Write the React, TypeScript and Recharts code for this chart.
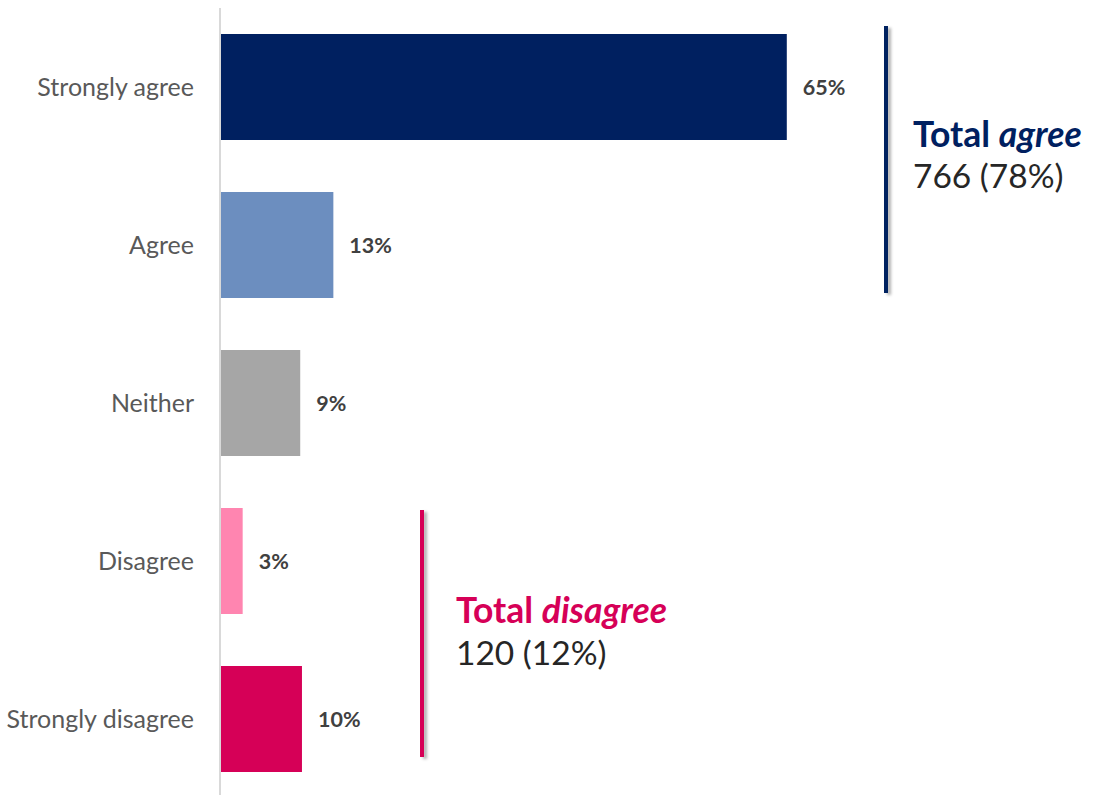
import { Bar, BarChart, Cell, LabelList, XAxis, YAxis } from "recharts";

const categories = ["Strongly agree", "Agree", "Neither", "Disagree", "Strongly disagree"];
const shares = [65.0, 13.0, 9.2, 2.6, 9.4];
const shareLabels = ["65%", "13%", "9%", "3%", "10%"];
const barColors = ["#002060", "#6c8ebf", "#a6a6a6", "#ff85b0", "#d60057"];

const agreeTitle = "Total";
const agreeWord = "agree";
const agreeCount = "766 (78%)";
const disagreeWord = "disagree";
const disagreeCount = "120 (12%)";

const font = "Lato, 'Open Sans', sans-serif";

const rows = categories.map((category, i) => ({
  category,
  value: shares[i],
  label: shareLabels[i]
}));

export default function App() {
  return (
    <div
      style={{
        position: "absolute",
        left: 0,
        top: 0,
        width: 1094,
        height: 795,
        overflow: "hidden",
        background: "#fff",
        fontFamily: font
      }}
    >
      <BarChart
        width={1094}
        height={798}
        data={rows}
        layout="vertical"
        margin={{ top: 8, right: 2, bottom: 0, left: 0 }}
      >
        <XAxis type="number" domain={[0, 100]} hide />
        <YAxis
          type="category"
          dataKey="category"
          width={220}
          axisLine={{ stroke: "#d9d9d9", strokeWidth: 2 }}
          tickLine={false}
          tickMargin={20}
          tick={{ fill: "#595959", fontSize: 25, fontFamily: font }}
        />
        <Bar dataKey="value" barSize={106} isAnimationActive={false}>
          {rows.map((r, i) => (
            <Cell key={r.category} fill={barColors[i]} />
          ))}
          <LabelList
            dataKey="label"
            position="right"
            offset={16}
            fill="#404040"
            fontSize={21.5}
            fontWeight="bold"
            fontFamily={font}
          />
        </Bar>
      </BarChart>

      <svg
        width={1094}
        height={795}
        style={{ position: "absolute", left: 0, top: 0, pointerEvents: "none" }}
      >
        <defs>
          <filter id="shade" filterUnits="userSpaceOnUse" x="0" y="0" width="1094" height="795">
            <feDropShadow dx="3" dy="2" stdDeviation="1.5" floodColor="#000" floodOpacity="0.3" />
          </filter>
        </defs>
        <rect x={884} y={26} width={4} height={267} fill="#002060" filter="url(#shade)" />
        <text x={913} y={147} fontSize={35.5} fontFamily={font} fill="#002060" fontWeight="bold">
          {agreeTitle} <tspan fontStyle="italic">{agreeWord}</tspan>
        </text>
        <text x={913} y={188} fontSize={33.5} fontFamily={font} fill="#262626">
          {agreeCount}
        </text>

        <rect x={420} y={510} width={4} height={247} fill="#d60057" filter="url(#shade)" />
        <text x={456} y={623} fontSize={35.5} fontFamily={font} fill="#d60057" fontWeight="bold">
          {agreeTitle} <tspan fontStyle="italic">{disagreeWord}</tspan>
        </text>
        <text x={456} y={665} fontSize={33.5} fontFamily={font} fill="#262626">
          {disagreeCount}
        </text>
      </svg>
    </div>
  );
}
